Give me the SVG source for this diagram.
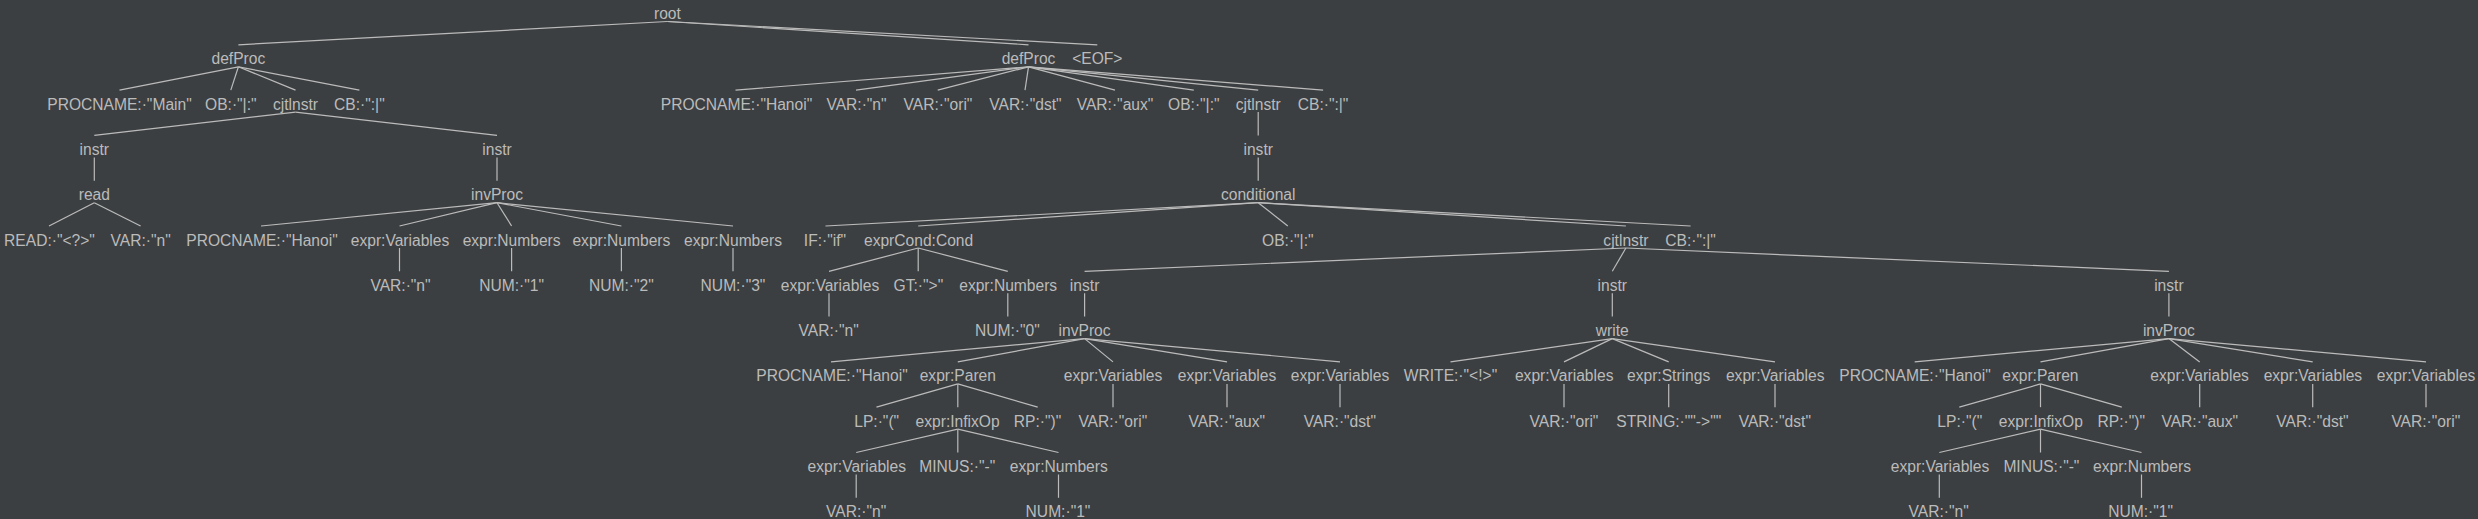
<svg xmlns="http://www.w3.org/2000/svg" width="2478" height="519" viewBox="0 0 2478 519">
<style>
text{font-family:"Liberation Sans",Arial,sans-serif;font-size:15.6px;fill:#bbbbbb;text-anchor:middle}
line{stroke:#bbbbbb;stroke-width:1.2}
</style>
<rect width="2478" height="519" fill="#3c3f41"/>
<g id="connectors">
<line x1="667.4" y1="21.5" x2="238.4" y2="44.8"/>
<line x1="667.4" y1="21.5" x2="1028.5" y2="44.8"/>
<line x1="667.4" y1="21.5" x2="1097.3" y2="44.8"/>
<line x1="238.4" y1="66.8" x2="119.5" y2="90.1"/>
<line x1="238.4" y1="66.8" x2="230.8" y2="90.1"/>
<line x1="238.4" y1="66.8" x2="295.5" y2="90.1"/>
<line x1="238.4" y1="66.8" x2="359.4" y2="90.1"/>
<line x1="1028.5" y1="66.8" x2="735.5" y2="90.1"/>
<line x1="1028.5" y1="66.8" x2="856" y2="90.1"/>
<line x1="1028.5" y1="66.8" x2="937.7" y2="90.1"/>
<line x1="1028.5" y1="66.8" x2="1025" y2="90.1"/>
<line x1="1028.5" y1="66.8" x2="1115" y2="90.1"/>
<line x1="1028.5" y1="66.8" x2="1193.8" y2="90.1"/>
<line x1="1028.5" y1="66.8" x2="1258.2" y2="90.1"/>
<line x1="1028.5" y1="66.8" x2="1323.1" y2="90.1"/>
<line x1="295.5" y1="112.1" x2="94.3" y2="135.4"/>
<line x1="295.5" y1="112.1" x2="497" y2="135.4"/>
<line x1="1258.2" y1="112.1" x2="1258.2" y2="135.4"/>
<line x1="94.3" y1="157.4" x2="94.3" y2="180.7"/>
<line x1="497" y1="157.4" x2="497" y2="180.7"/>
<line x1="1258.2" y1="157.4" x2="1258.2" y2="180.7"/>
<line x1="94.3" y1="202.7" x2="49" y2="226"/>
<line x1="94.3" y1="202.7" x2="140.6" y2="226"/>
<line x1="497" y1="202.7" x2="261" y2="226"/>
<line x1="497" y1="202.7" x2="399.5" y2="226"/>
<line x1="497" y1="202.7" x2="511.6" y2="226"/>
<line x1="497" y1="202.7" x2="621.4" y2="226"/>
<line x1="497" y1="202.7" x2="733" y2="226"/>
<line x1="1258.2" y1="202.7" x2="825.5" y2="226"/>
<line x1="1258.2" y1="202.7" x2="918.2" y2="226"/>
<line x1="1258.2" y1="202.7" x2="1287.8" y2="226"/>
<line x1="1258.2" y1="202.7" x2="1625.9" y2="226"/>
<line x1="1258.2" y1="202.7" x2="1690.6" y2="226"/>
<line x1="399.5" y1="248" x2="399.5" y2="271.3"/>
<line x1="511.6" y1="248" x2="511.6" y2="271.3"/>
<line x1="621.4" y1="248" x2="621.4" y2="271.3"/>
<line x1="733" y1="248" x2="733" y2="271.3"/>
<line x1="918.2" y1="248" x2="829" y2="271.3"/>
<line x1="918.2" y1="248" x2="918.2" y2="271.3"/>
<line x1="918.2" y1="248" x2="1007.8" y2="271.3"/>
<line x1="1625.9" y1="248" x2="1084.6" y2="271.3"/>
<line x1="1625.9" y1="248" x2="1612.3" y2="271.3"/>
<line x1="1625.9" y1="248" x2="2168.9" y2="271.3"/>
<line x1="829" y1="293.3" x2="829" y2="316.6"/>
<line x1="1007.8" y1="293.3" x2="1007.8" y2="316.6"/>
<line x1="1084.6" y1="293.3" x2="1084.6" y2="316.6"/>
<line x1="1612.3" y1="293.3" x2="1612.3" y2="316.6"/>
<line x1="2168.9" y1="293.3" x2="2168.9" y2="316.6"/>
<line x1="1084.6" y1="338.6" x2="831" y2="361.9"/>
<line x1="1084.6" y1="338.6" x2="957.8" y2="361.9"/>
<line x1="1084.6" y1="338.6" x2="1113" y2="361.9"/>
<line x1="1084.6" y1="338.6" x2="1227" y2="361.9"/>
<line x1="1084.6" y1="338.6" x2="1340" y2="361.9"/>
<line x1="1612.3" y1="338.6" x2="1450.5" y2="361.9"/>
<line x1="1612.3" y1="338.6" x2="1564" y2="361.9"/>
<line x1="1612.3" y1="338.6" x2="1668.7" y2="361.9"/>
<line x1="1612.3" y1="338.6" x2="1775" y2="361.9"/>
<line x1="2168.9" y1="338.6" x2="1914.7" y2="361.9"/>
<line x1="2168.9" y1="338.6" x2="2040.5" y2="361.9"/>
<line x1="2168.9" y1="338.6" x2="2199.7" y2="361.9"/>
<line x1="2168.9" y1="338.6" x2="2312.7" y2="361.9"/>
<line x1="2168.9" y1="338.6" x2="2426" y2="361.9"/>
<line x1="957.8" y1="383.9" x2="876.5" y2="407.2"/>
<line x1="957.8" y1="383.9" x2="957.8" y2="407.2"/>
<line x1="957.8" y1="383.9" x2="1037.7" y2="407.2"/>
<line x1="1113" y1="383.9" x2="1113" y2="407.2"/>
<line x1="1227" y1="383.9" x2="1227" y2="407.2"/>
<line x1="1340" y1="383.9" x2="1340" y2="407.2"/>
<line x1="1564" y1="383.9" x2="1564" y2="407.2"/>
<line x1="1668.7" y1="383.9" x2="1668.7" y2="407.2"/>
<line x1="1775" y1="383.9" x2="1775" y2="407.2"/>
<line x1="2040.5" y1="383.9" x2="1959.3" y2="407.2"/>
<line x1="2040.5" y1="383.9" x2="2040.5" y2="407.2"/>
<line x1="2040.5" y1="383.9" x2="2121.8" y2="407.2"/>
<line x1="2199.7" y1="383.9" x2="2199.7" y2="407.2"/>
<line x1="2312.7" y1="383.9" x2="2312.7" y2="407.2"/>
<line x1="2426" y1="383.9" x2="2426" y2="407.2"/>
<line x1="957.8" y1="429.2" x2="856.2" y2="452.5"/>
<line x1="957.8" y1="429.2" x2="957.8" y2="452.5"/>
<line x1="957.8" y1="429.2" x2="1058.5" y2="452.5"/>
<line x1="2040.5" y1="429.2" x2="1939.3" y2="452.5"/>
<line x1="2040.5" y1="429.2" x2="2040.5" y2="452.5"/>
<line x1="2040.5" y1="429.2" x2="2141.5" y2="452.5"/>
<line x1="856.2" y1="474.5" x2="856.2" y2="497.8"/>
<line x1="1058.5" y1="474.5" x2="1058.5" y2="497.8"/>
<line x1="1939.3" y1="474.5" x2="1939.3" y2="497.8"/>
<line x1="2141.5" y1="474.5" x2="2141.5" y2="497.8"/>
</g>
<g id="n0"><text x="667.4" y="19">root</text></g>
<g id="n1"><text x="238.4" y="64.3">defProc</text></g>
<g id="n2"><text x="1028.5" y="64.3">defProc</text></g>
<g id="n3"><text x="1097.3" y="64.3">&lt;EOF&gt;</text></g>
<g id="n4"><text x="119.5" y="109.6">PROCNAME:·"Main"</text></g>
<g id="n5"><text x="230.8" y="109.6">OB:·"|:"</text></g>
<g id="n6"><text x="295.5" y="109.6">cjtlnstr</text></g>
<g id="n7"><text x="359.4" y="109.6">CB:·":|"</text></g>
<g id="n8"><text x="736.5" y="109.6">PROCNAME:·"Hanoi"</text></g>
<g id="n9"><text x="856.5" y="109.6">VAR:·"n"</text></g>
<g id="n10"><text x="938" y="109.6">VAR:·"ori"</text></g>
<g id="n11"><text x="1025.5" y="109.6">VAR:·"dst"</text></g>
<g id="n12"><text x="1115" y="109.6">VAR:·"aux"</text></g>
<g id="n13"><text x="1193.8" y="109.6">OB:·"|:"</text></g>
<g id="n14"><text x="1258.2" y="109.6">cjtlnstr</text></g>
<g id="n15"><text x="1323.1" y="109.6">CB:·":|"</text></g>
<g id="n16"><text x="94.3" y="154.9">instr</text></g>
<g id="n17"><text x="497" y="154.9">instr</text></g>
<g id="n18"><text x="1258.2" y="154.9">instr</text></g>
<g id="n19"><text x="94.3" y="200.2">read</text></g>
<g id="n20"><text x="497" y="200.2">invProc</text></g>
<g id="n21"><text x="1258.2" y="200.2">conditional</text></g>
<g id="n22"><text x="49.5" y="245.5">READ:·"&lt;?&gt;"</text></g>
<g id="n23"><text x="140.6" y="245.5">VAR:·"n"</text></g>
<g id="n24"><text x="262" y="245.5">PROCNAME:·"Hanoi"</text></g>
<g id="n25"><text x="400" y="245.5">expr:Variables</text></g>
<g id="n26"><text x="511.6" y="245.5">expr:Numbers</text></g>
<g id="n27"><text x="621.4" y="245.5">expr:Numbers</text></g>
<g id="n28"><text x="733" y="245.5">expr:Numbers</text></g>
<g id="n29"><text x="825" y="245.5">IF:·"if"</text></g>
<g id="n30"><text x="918.6" y="245.5">exprCond:Cond</text></g>
<g id="n31"><text x="1287.8" y="245.5">OB:·"|:"</text></g>
<g id="n32"><text x="1625.9" y="245.5">cjtlnstr</text></g>
<g id="n33"><text x="1690.6" y="245.5">CB:·":|"</text></g>
<g id="n34"><text x="400.5" y="290.8">VAR:·"n"</text></g>
<g id="n35"><text x="511.6" y="290.8">NUM:·"1"</text></g>
<g id="n36"><text x="621.4" y="290.8">NUM:·"2"</text></g>
<g id="n37"><text x="733" y="290.8">NUM:·"3"</text></g>
<g id="n38"><text x="830" y="290.8">expr:Variables</text></g>
<g id="n39"><text x="918.4" y="290.8">GT:·"&gt;"</text></g>
<g id="n40"><text x="1008.2" y="290.8">expr:Numbers</text></g>
<g id="n41"><text x="1084.6" y="290.8">instr</text></g>
<g id="n42"><text x="1612.3" y="290.8">instr</text></g>
<g id="n43"><text x="2168.9" y="290.8">instr</text></g>
<g id="n44"><text x="828.6" y="336.1">VAR:·"n"</text></g>
<g id="n45"><text x="1007.4" y="336.1">NUM:·"0"</text></g>
<g id="n46"><text x="1084.6" y="336.1">invProc</text></g>
<g id="n47"><text x="1612.3" y="336.1">write</text></g>
<g id="n48"><text x="2168.9" y="336.1">invProc</text></g>
<g id="n49"><text x="832" y="381.4">PROCNAME:·"Hanoi"</text></g>
<g id="n50"><text x="957.8" y="381.4">expr:Paren</text></g>
<g id="n51"><text x="1113" y="381.4">expr:Variables</text></g>
<g id="n52"><text x="1227" y="381.4">expr:Variables</text></g>
<g id="n53"><text x="1340" y="381.4">expr:Variables</text></g>
<g id="n54"><text x="1450.5" y="381.4">WRITE:·"&lt;!&gt;"</text></g>
<g id="n55"><text x="1564.2" y="381.4">expr:Variables</text></g>
<g id="n56"><text x="1668.6" y="381.4">expr:Strings</text></g>
<g id="n57"><text x="1775.2" y="381.4">expr:Variables</text></g>
<g id="n58"><text x="1915" y="381.4">PROCNAME:·"Hanoi"</text></g>
<g id="n59"><text x="2040.4" y="381.4">expr:Paren</text></g>
<g id="n60"><text x="2199.6" y="381.4">expr:Variables</text></g>
<g id="n61"><text x="2312.9" y="381.4">expr:Variables</text></g>
<g id="n62"><text x="2426.1" y="381.4">expr:Variables</text></g>
<g id="n63"><text x="876.7" y="426.7">LP:·"("</text></g>
<g id="n64"><text x="957.6" y="426.7">expr:InfixOp</text></g>
<g id="n65"><text x="1037.6" y="426.7">RP:·")"</text></g>
<g id="n66"><text x="1112.8" y="426.7">VAR:·"ori"</text></g>
<g id="n67"><text x="1226.8" y="426.7">VAR:·"aux"</text></g>
<g id="n68"><text x="1339.8" y="426.7">VAR:·"dst"</text></g>
<g id="n69"><text x="1564" y="426.7">VAR:·"ori"</text></g>
<g id="n70"><text x="1668.8" y="426.7">STRING:·""-&gt;""</text></g>
<g id="n71"><text x="1774.8" y="426.7">VAR:·"dst"</text></g>
<g id="n72"><text x="1959.8" y="426.7">LP:·"("</text></g>
<g id="n73"><text x="2040.8" y="426.7">expr:InfixOp</text></g>
<g id="n74"><text x="2121.2" y="426.7">RP:·")"</text></g>
<g id="n75"><text x="2199.8" y="426.7">VAR:·"aux"</text></g>
<g id="n76"><text x="2312.5" y="426.7">VAR:·"dst"</text></g>
<g id="n77"><text x="2425.8" y="426.7">VAR:·"ori"</text></g>
<g id="n78"><text x="856.8" y="472">expr:Variables</text></g>
<g id="n79"><text x="957.3" y="472">MINUS:·"-"</text></g>
<g id="n80"><text x="1058.8" y="472">expr:Numbers</text></g>
<g id="n81"><text x="1940" y="472">expr:Variables</text></g>
<g id="n82"><text x="2041.4" y="472">MINUS:·"-"</text></g>
<g id="n83"><text x="2142" y="472">expr:Numbers</text></g>
<g id="n84"><text x="856.2" y="517.3">VAR:·"n"</text></g>
<g id="n85"><text x="1058" y="517.3">NUM:·"1"</text></g>
<g id="n86"><text x="1938.7" y="517.3">VAR:·"n"</text></g>
<g id="n87"><text x="2140.6" y="517.3">NUM:·"1"</text></g>
</svg>
